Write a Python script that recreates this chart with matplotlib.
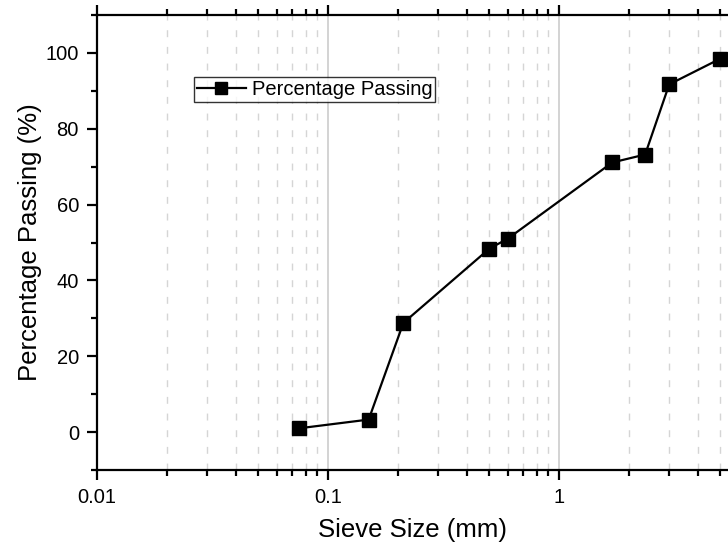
import matplotlib
matplotlib.use("Agg")
import matplotlib.pyplot as plt
from matplotlib.ticker import LogLocator, FixedLocator, NullFormatter, FuncFormatter

plt.rcParams['font.family'] = ['Liberation Sans', 'DejaVu Sans']

sieve_size = [0.075, 0.15, 0.212, 0.5, 0.6, 1.7, 2.36, 3.0, 5.0]
percent_passing = [1.0, 3.3, 28.8, 48.4, 51.0, 71.1, 73.2, 91.7, 98.5]
series_label = "Percentage Passing"
x_major = [0.01, 0.1, 1]
x_major_labels = ["0.01", "0.1", "1"]
y_major = [0, 20, 40, 60, 80, 100]
y_minor = [-10, 10, 30, 50, 70, 90, 110]

fig = plt.figure(figsize=(7.28, 5.44), dpi=100)
ax = fig.add_axes([97/728, 1 - 470/544, 1 - 97/728, (470 - 15)/544])

ax.set_xscale('log')
ax.set_xlim(0.01, 5.39)
ax.set_ylim(-10, 110)

ax.plot(sieve_size, percent_passing, color='black', lw=1.6, marker='s',
        markersize=9.5, markerfacecolor='black', markeredgecolor='black',
        label=series_label, zorder=3)

ax.xaxis.set_major_locator(FixedLocator(x_major))
ax.xaxis.set_major_formatter(FuncFormatter(lambda v, p: dict(zip(x_major, x_major_labels)).get(v, "")))
ax.xaxis.set_minor_locator(LogLocator(base=10, subs=range(2, 10), numticks=20))
ax.xaxis.set_minor_formatter(NullFormatter())
ax.yaxis.set_major_locator(FixedLocator(y_major))
ax.yaxis.set_minor_locator(FixedLocator(y_minor))

ax.grid(True, which='major', axis='x', color='#cccccc', lw=1.2, ls='-', zorder=0)
ax.grid(True, which='minor', axis='x', color='#d5d5d5', lw=1.0, ls=(0, (5, 7)), zorder=0)

for s in ['left', 'bottom', 'top']:
    ax.spines[s].set_linewidth(1.6)
ax.spines['right'].set_visible(False)

ax.tick_params(axis='both', which='major', direction='out', length=7, width=1.6,
               labelsize=14.5, pad=6)
ax.tick_params(axis='both', which='minor', direction='out', length=4, width=1.6)
ax.tick_params(axis='x', which='both', top=True)
ax.tick_params(axis='y', which='both', right=False)

ax.set_xlabel("Sieve Size (mm)", fontsize=18.5)
ax.set_ylabel("Percentage Passing (%)", fontsize=18.5)
ax.yaxis.set_label_coords(-0.087, 0.5)
ax.xaxis.set_label_coords(0.5, -0.105)

leg = ax.legend(loc='upper left', bbox_to_anchor=(0.154, 0.864), borderaxespad=0,
                fontsize=14.5, frameon=True, fancybox=False, borderpad=0.15,
                handlelength=2.4, handletextpad=0.3, markerscale=0.85)
leg.get_frame().set_edgecolor('black')
leg.get_frame().set_linewidth(1.0)

fig.savefig("out.png", dpi=100)
